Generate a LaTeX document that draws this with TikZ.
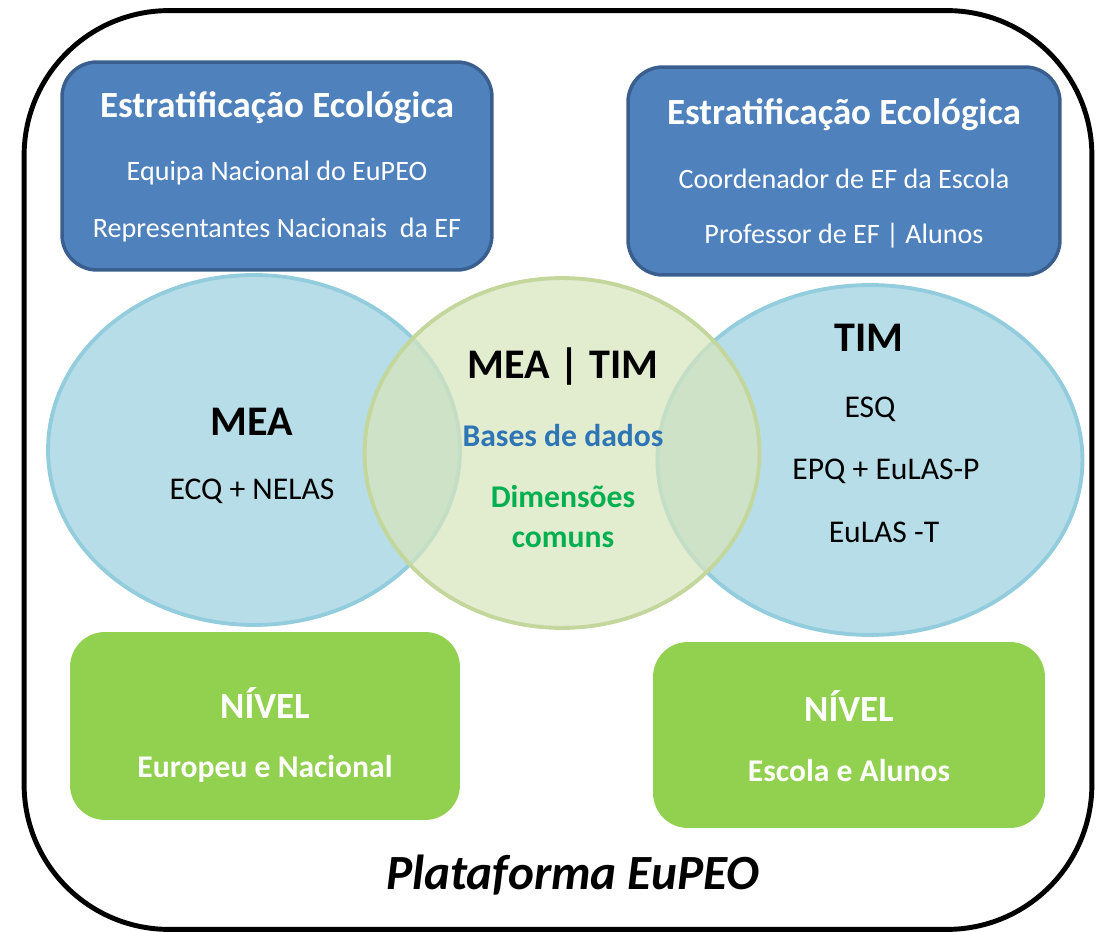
\documentclass[tikz,border=0pt]{standalone}
\usepackage{fontspec}
\setmainfont{Carlito}
\usetikzlibrary{positioning,shapes.geometric}

\definecolor{stratfill}{HTML}{4F81BD}
\definecolor{stratedge}{HTML}{3A5F8F}
\definecolor{toolfill}{HTML}{B7DEE8}
\definecolor{tooledge}{HTML}{93CDDD}
\definecolor{sharedfill}{HTML}{D7E4BD}
\definecolor{sharededge}{HTML}{C3D69B}
\definecolor{levelfill}{HTML}{92D050}
\definecolor{dbblue}{HTML}{2E75B6}
\definecolor{dimgreen}{HTML}{00B050}

\begin{document}
\begin{tikzpicture}[
  x=0.02cm, y=-0.02cm,
  frame/.style={rectangle, draw=black, line width=2.8pt, rounded corners=2.9cm, minimum width=21.36cm, minimum height=18.38cm},
  stratbox/.style={rectangle, rounded corners=0.7cm, fill=stratfill, draw=stratedge, line width=2pt, minimum width=8.6cm, minimum height=4.16cm},
  levelbox/.style={rectangle, rounded corners=0.7cm, fill=levelfill, minimum width=7.8cm, minimum height=3.76cm},
  toolset/.style={ellipse, fill=toolfill, draw=tooledge, line width=2.2pt, inner sep=0pt},
  shared/.style={ellipse, fill=sharedfill, draw=sharededge, line width=2.2pt, fill opacity=0.72, inner sep=0pt},
  heading/.style={font=\fontsize{21}{21}\selectfont\bfseries, text=white},
  member/.style={font=\fontsize{16}{16}\selectfont, text=white},
  setname/.style={font=\fontsize{24}{24}\selectfont\bfseries},
  setitem/.style={font=\fontsize{18}{18}\selectfont},
  shareditem/.style={font=\fontsize{18}{18}\selectfont\bfseries},
  levelname/.style={font=\fontsize{21}{21}\selectfont\bfseries, text=white},
  levelitem/.style={font=\fontsize{18}{18}\selectfont\bfseries, text=white},
  platname/.style={font=\fontsize{28}{28}\selectfont\bfseries\itshape}
]
  \useasboundingbox (0,0) rectangle (1100,932);
  \node (platform) at (558,470) [frame] {};

  \node (strat-eu) at (277,166) [stratbox] {};
  \node (strat-eu-title) at (277,108) [heading] {Estratificação Ecológica};
  \node (strat-eu-team) at (277,173) [member] {Equipa Nacional do EuPEO};
  \node (strat-eu-reps) at (277,230) [member] {Representantes Nacionais\ \ da EF};

  \node (strat-school) at (844,171) [stratbox, minimum width=8.64cm] {};
  \node (strat-school-title) at (844,115) [heading] {Estratificação Ecológica};
  \node (strat-school-coord) at (844,179) [member] {Coordenador de EF da Escola};
  \node (strat-school-prof) at (844,236) [member] {Professor de EF | Alunos};

  \node (mea) at (254,450) [toolset, minimum width=8.24cm, minimum height=7cm] {};
  \node (tim) at (870,460) [toolset, minimum width=8.5cm, minimum height=7cm] {};
  \node (mea-tim) at (562,453) [shared, minimum width=7.9cm, minimum height=7cm] {};

  \node (mea-name) at (252,422) [setname] {MEA};
  \node (mea-items) at (252,491) [setitem] {ECQ + NELAS};

  \node (tim-name) at (869,338) [setname] {TIM};
  \node (tim-esq) at (870,409) [setitem] {ESQ};
  \node (tim-epq) at (886,471) [setitem] {EPQ + EuLAS-P};
  \node (tim-eulas) at (884,532) [setitem] {EuLAS -T};

  \node (shared-name) at (563,367) [setname] {MEA | TIM};
  \node (shared-db) at (563,436) [shareditem, text=dbblue] {Bases de dados};
  \node (shared-dim) at (563,497) [shareditem, text=dimgreen] {Dimensões};
  \node (shared-com) at (563,540) [shareditem, text=dimgreen] {comuns};

  \node (level-eu) at (265,726) [levelbox] {};
  \node (level-eu-name) at (265,703) [levelname] {NÍVEL};
  \node (level-eu-item) at (265,769) [levelitem] {Europeu e Nacional};

  \node (level-school) at (849,735) [levelbox, minimum width=7.84cm, minimum height=3.72cm] {};
  \node (level-school-name) at (849,706) [levelname] {NÍVEL};
  \node (level-school-item) at (849,771) [levelitem] {Escola e Alunos};

  \node (platform-name) at (573,875) [platname] {Plataforma EuPEO};
\end{tikzpicture}
\end{document}
